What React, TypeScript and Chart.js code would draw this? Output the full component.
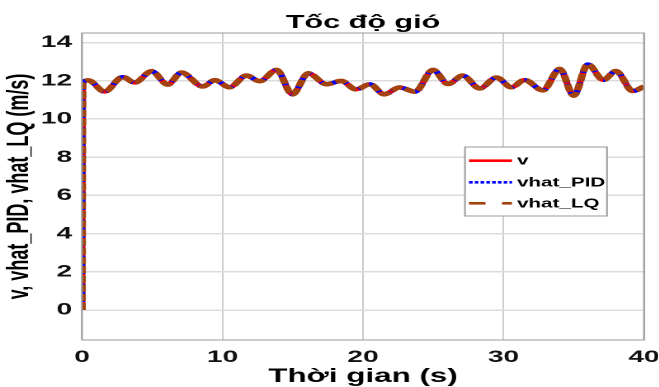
import React, { useEffect, useRef } from 'react';
import { Chart, registerables } from 'chart.js';

Chart.register(...registerables);

// Horizontal stretch of the original figure
const S = 1.65;
const W = 659;
const H = 387;
const IW = W / S;

const chartTitle = 'Tốc độ gió';
const xTitle = 'Thời gian (s)';
const yTitle = 'v, vhat_PID, vhat_LQ (m/s)';
const seriesLabels = ['v', 'vhat_PID', 'vhat_LQ'];

const time = [0, 0.05, 0.45, 1.6, 2.9, 3.75, 4.95, 6.1, 7.07, 8.6, 9.45, 10.5, 11.7, 12.65, 13.85, 14.97, 16.1, 17.4, 18.45, 19.5, 20.5, 21.5, 22.6, 23.7, 24.98, 26.05, 27.1, 28.3, 29.5, 30.56, 31.5, 32.8, 34.0, 35.0, 36.0, 37.1, 38.0, 39.2, 40];
const v = [0, 11.9, 12.02, 11.43, 12.2, 11.9, 12.5, 11.8, 12.43, 11.7, 12.03, 11.66, 12.27, 11.98, 12.57, 11.29, 12.39, 11.82, 11.99, 11.55, 11.82, 11.29, 11.65, 11.43, 12.57, 11.83, 12.27, 11.6, 12.17, 11.66, 12.04, 11.5, 12.62, 11.22, 12.86, 12.04, 12.51, 11.46, 11.7];
const vhatPID = [0, 11.9, 12.02, 11.43, 12.2, 11.9, 12.5, 11.8, 12.43, 11.7, 12.03, 11.66, 12.27, 11.98, 12.57, 11.29, 12.39, 11.82, 11.99, 11.55, 11.82, 11.29, 11.65, 11.43, 12.57, 11.83, 12.27, 11.6, 12.17, 11.66, 12.04, 11.5, 12.62, 11.22, 12.86, 12.04, 12.51, 11.46, 11.7];
const vhatLQ = [0, 11.9, 12.02, 11.43, 12.2, 11.9, 12.5, 11.8, 12.43, 11.7, 12.03, 11.66, 12.27, 11.98, 12.57, 11.29, 12.39, 11.82, 11.99, 11.55, 11.82, 11.29, 11.65, 11.43, 12.57, 11.83, 12.27, 11.6, 12.17, 11.66, 12.04, 11.5, 12.62, 11.22, 12.86, 12.04, 12.51, 11.46, 11.7];

const xTicks = [0, 10, 20, 30, 40];
const yTicks = [0, 2, 4, 6, 8, 10, 12, 14];
const xRange = [0, 40];
const yRange = [-1.57, 14.5];

const RED = '#ff0000';
const BLUE = '#0000ff';
const BROWN = '#a4420e';
const FONT = '"Liberation Sans", Arial, sans-serif';

const toPts = (ys: number[]) => ys.map((y, i) => ({ x: time[i], y }));

const decorPlugin = {
  id: 'decor',
  afterDraw(chart: any) {
    const { ctx, chartArea: a } = chart;
    ctx.save();
    // box
    ctx.strokeStyle = '#9a9a9a';
    ctx.lineWidth = 1;
    ctx.setLineDash([]);
    ctx.strokeRect(a.left, a.top, a.right - a.left, a.bottom - a.top);
    // title
    ctx.fillStyle = '#000';
    ctx.font = `bold 18.5px ${FONT}`;
    ctx.textAlign = 'center';
    ctx.textBaseline = 'alphabetic';
    ctx.fillText(chartTitle, (a.left + a.right) / 2, 28);
    // legend
    const lx = 465 / S, ly = 147, lw = (607 - 465) / S, lh = 69;
    ctx.fillStyle = '#fff';
    ctx.fillRect(lx, ly, lw, lh);
    ctx.strokeStyle = '#9a9a9a';
    ctx.lineWidth = 1;
    ctx.strokeRect(lx, ly, lw, lh);
    const rows = [160.7, 182.3, 203.3];
    const styles = [
      { c: RED, d: [] as number[] },
      { c: BLUE, d: [2.2, 1.3] },
      { c: BROWN, d: [10, 10] },
    ];
    const x0 = 469 / S, x1 = 512 / S;
    chart.data.datasets.forEach((ds: any, i: number) => {
      const y = rows[i];
      ctx.strokeStyle = styles[i].c;
      ctx.lineWidth = 2.6;
      ctx.setLineDash(styles[i].d);
      ctx.beginPath();
      ctx.moveTo(x0, y);
      ctx.lineTo(x1, y);
      ctx.stroke();
      ctx.setLineDash([]);
      ctx.fillStyle = '#000';
      ctx.font = `bold 12.5px ${FONT}`;
      ctx.textAlign = 'left';
      ctx.textBaseline = 'middle';
      ctx.fillText(ds.label, 517 / S, y + 0.5);
    });
    ctx.restore();
  },
};

export default function App() {
  const ref = useRef<HTMLCanvasElement | null>(null);
  useEffect(() => {
    if (!ref.current) return;
    const chart = new Chart(ref.current, {
      type: 'line',
      data: {
        datasets: [
          {
            label: seriesLabels[0],
            data: toPts(v),
            borderColor: RED,
            borderWidth: 4,
            pointRadius: 0,
            cubicInterpolationMode: 'monotone',
            order: 3,
          },
          {
            label: seriesLabels[1],
            data: toPts(vhatPID),
            borderColor: BLUE,
            borderWidth: 4,
            borderDash: [2.5, 1.5],
            pointRadius: 0,
            cubicInterpolationMode: 'monotone',
            order: 2,
          },
          {
            label: seriesLabels[2],
            data: toPts(vhatLQ),
            borderColor: BROWN,
            borderWidth: 4.6,
            borderDash: [7, 2.2],
            pointRadius: 0,
            cubicInterpolationMode: 'monotone',
            order: 1,
          },
        ],
      },
      options: {
        animation: false,
        responsive: true,
        maintainAspectRatio: false,
        devicePixelRatio: 2,
        layout: { padding: { top: 33, right: (W - 644) / S, left: 0, bottom: 0 } },
        plugins: {
          legend: { display: false },
          title: { display: false },
          tooltip: { enabled: false },
        },
        scales: {
          x: {
            type: 'linear',
            min: xRange[0],
            max: xRange[1],
            afterBuildTicks: (s: any) => { s.ticks = xTicks.map((value) => ({ value })); },
            afterFit: (s: any) => { s.height = 47; s.paddingLeft = 0; s.paddingRight = 0; },
            ticks: {
              color: '#111',
              font: { family: FONT, size: 17, weight: 'bold' },
              padding: 7,
              maxRotation: 0,
              autoSkip: false,
            },
            grid: { color: '#cdcdcd', lineWidth: 1, drawTicks: false },
            border: { display: false },
            title: {
              display: true,
              text: xTitle,
              color: '#000',
              font: { family: FONT, size: 19, weight: 'bold', lineHeight: 1 },
              padding: { top: 0, bottom: 0.5 },
            },
          },
          y: {
            type: 'linear',
            min: yRange[0],
            max: yRange[1],
            afterBuildTicks: (s: any) => { s.ticks = yTicks.map((value) => ({ value })); },
            afterFit: (s: any) => { s.width = 82 / S; s.paddingTop = 0; s.paddingBottom = 0; },
            ticks: {
              color: '#111',
              font: { family: FONT, size: 17, weight: 'bold' },
              padding: 6,
              autoSkip: false,
            },
            grid: { color: '#dcdcdc', lineWidth: 1.5, drawTicks: false },
            border: { display: false },
            title: {
              display: true,
              text: yTitle,
              color: '#000',
              font: { family: FONT, size: 18, weight: 'bold', lineHeight: 1.2 },
              padding: { top: 1, bottom: 0 },
            },
          },
        },
      },
      plugins: [decorPlugin],
    } as any);
    return () => chart.destroy();
  }, []);

  return (
    <div style={{ position: 'fixed', left: 0, top: 0, width: W, height: H, overflow: 'hidden', background: '#fff' }}>
      <div style={{ width: IW, height: H, transform: `scaleX(${S})`, transformOrigin: '0 0' }}>
        <canvas ref={ref} />
      </div>
    </div>
  );
}
